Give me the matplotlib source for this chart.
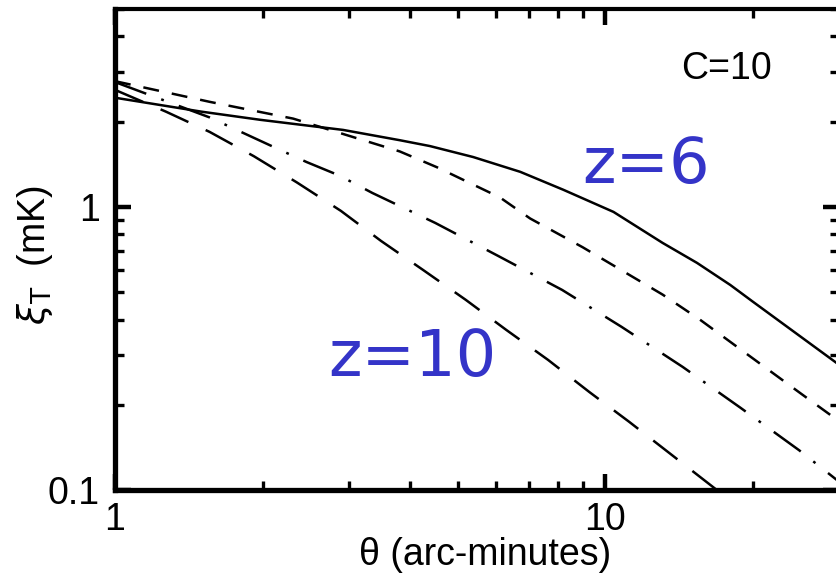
import matplotlib
matplotlib.use("Agg")
import matplotlib.pyplot as plt
from matplotlib.ticker import LogLocator, NullFormatter, FuncFormatter

plt.rcParams["font.family"] = ["Liberation Sans", "DejaVu Sans"]
plt.rcParams["lines.scale_dashes"] = False

# Temperature correlation function vs angular separation, C=10
theta_z6 = [1.0, 1.5, 1.98, 2.92, 3.81, 4.39, 5.38, 6.71, 8.21, 10.4, 13.1,
            15.4, 18.0, 20.0, 30.0]
xi_z6 = [2.43, 2.17, 2.03, 1.87, 1.72, 1.64, 1.50, 1.33, 1.15, 0.96, 0.746,
         0.634, 0.530, 0.463, 0.277]

theta_z7 = [1.0, 1.56, 2.31, 3.81, 4.54, 6.1, 7.03, 9.0, 13.1, 15.6, 25.0, 30.0]
xi_z7 = [2.78, 2.35, 2.05, 1.57, 1.38, 1.08, 0.91, 0.72, 0.49, 0.40, 0.22, 0.175]

theta_z8 = [1.0, 1.56, 1.82, 2.12, 2.46, 2.87, 3.35, 4.5, 6.05, 8.17, 10.8,
            14.4, 18.9, 24.9, 30.0]
xi_z8 = [2.76, 2.07, 1.83, 1.62, 1.44, 1.29, 1.12, 0.878, 0.671, 0.509, 0.377,
         0.272, 0.195, 0.138, 0.107]

theta_z10 = [1.0, 1.27, 1.56, 1.92, 2.35, 2.89, 3.49, 4.25, 5.2, 6.28, 7.65,
             9.28, 11.2, 13.6, 16.9, 20.0]
xi_z10 = [2.59, 2.17, 1.84, 1.51, 1.22, 0.968, 0.758, 0.599, 0.469, 0.368,
          0.288, 0.222, 0.174, 0.134, 0.1, 0.08]

fig = plt.figure(figsize=(8.36, 5.76), dpi=100)
ax = fig.add_axes([115 / 836, 86 / 576, 724 / 836, 481 / 576])
ax.set_xscale("log")
ax.set_yscale("log")

lw = 1.8
ax.plot(theta_z6, xi_z6, color="black", lw=lw, linestyle="-")
ax.plot(theta_z7, xi_z7, color="black", lw=lw, linestyle=(0, (11.5, 9.4)))
ax.plot(theta_z8, xi_z8, color="black", lw=lw,
        linestyle=(0, (24, 11.5, 2, 11.5)))
ax.plot(theta_z10, xi_z10, color="black", lw=lw, linestyle=(0, (22, 13.7)))

ax.set_xlim(1, 30)
ax.set_ylim(0.1, 5)

fmt = FuncFormatter(lambda v, p: "%g" % v)
for axis in (ax.xaxis, ax.yaxis):
    axis.set_major_locator(LogLocator(base=10))
    axis.set_minor_locator(LogLocator(base=10, subs=range(2, 10)))
    axis.set_major_formatter(fmt)
    axis.set_minor_formatter(NullFormatter())

ax.tick_params(which="both", direction="in", top=True, right=True,
               labelsize=27, colors="black")
ax.tick_params(which="major", length=11.5, width=3.2)
ax.tick_params(which="minor", length=6.5, width=2.4)
ax.tick_params(axis="x", which="major", pad=9)
ax.tick_params(axis="y", which="major", pad=11)

for side in ("left", "bottom", "right"):
    ax.spines[side].set_linewidth(3.8)
ax.spines["top"].set_linewidth(3.0)

ax.set_xlabel("\u03b8 (arc-minutes)", fontsize=27)
ax.xaxis.set_label_coords(0.511, -0.098)
ax.xaxis.label.set_va("top")
ax.set_ylabel(r"$\xi_{\mathrm{T}}$  (mK)", fontsize=27)
ax.yaxis.set_label_coords(-0.083, 0.489)

ax.text(0.845, 0.855, "C=10", transform=ax.transAxes, fontsize=27,
        ha="center", va="baseline")

blue = "#3434C8"
ax.text(0.646, 0.638, "z=6", transform=ax.transAxes, fontsize=46,
        color=blue, family="DejaVu Sans", ha="left", va="baseline")
ax.text(0.294, 0.237, "z=10", transform=ax.transAxes, fontsize=46,
        color=blue, family="DejaVu Sans", ha="left", va="baseline")

fig.savefig("out.png", dpi=100)
